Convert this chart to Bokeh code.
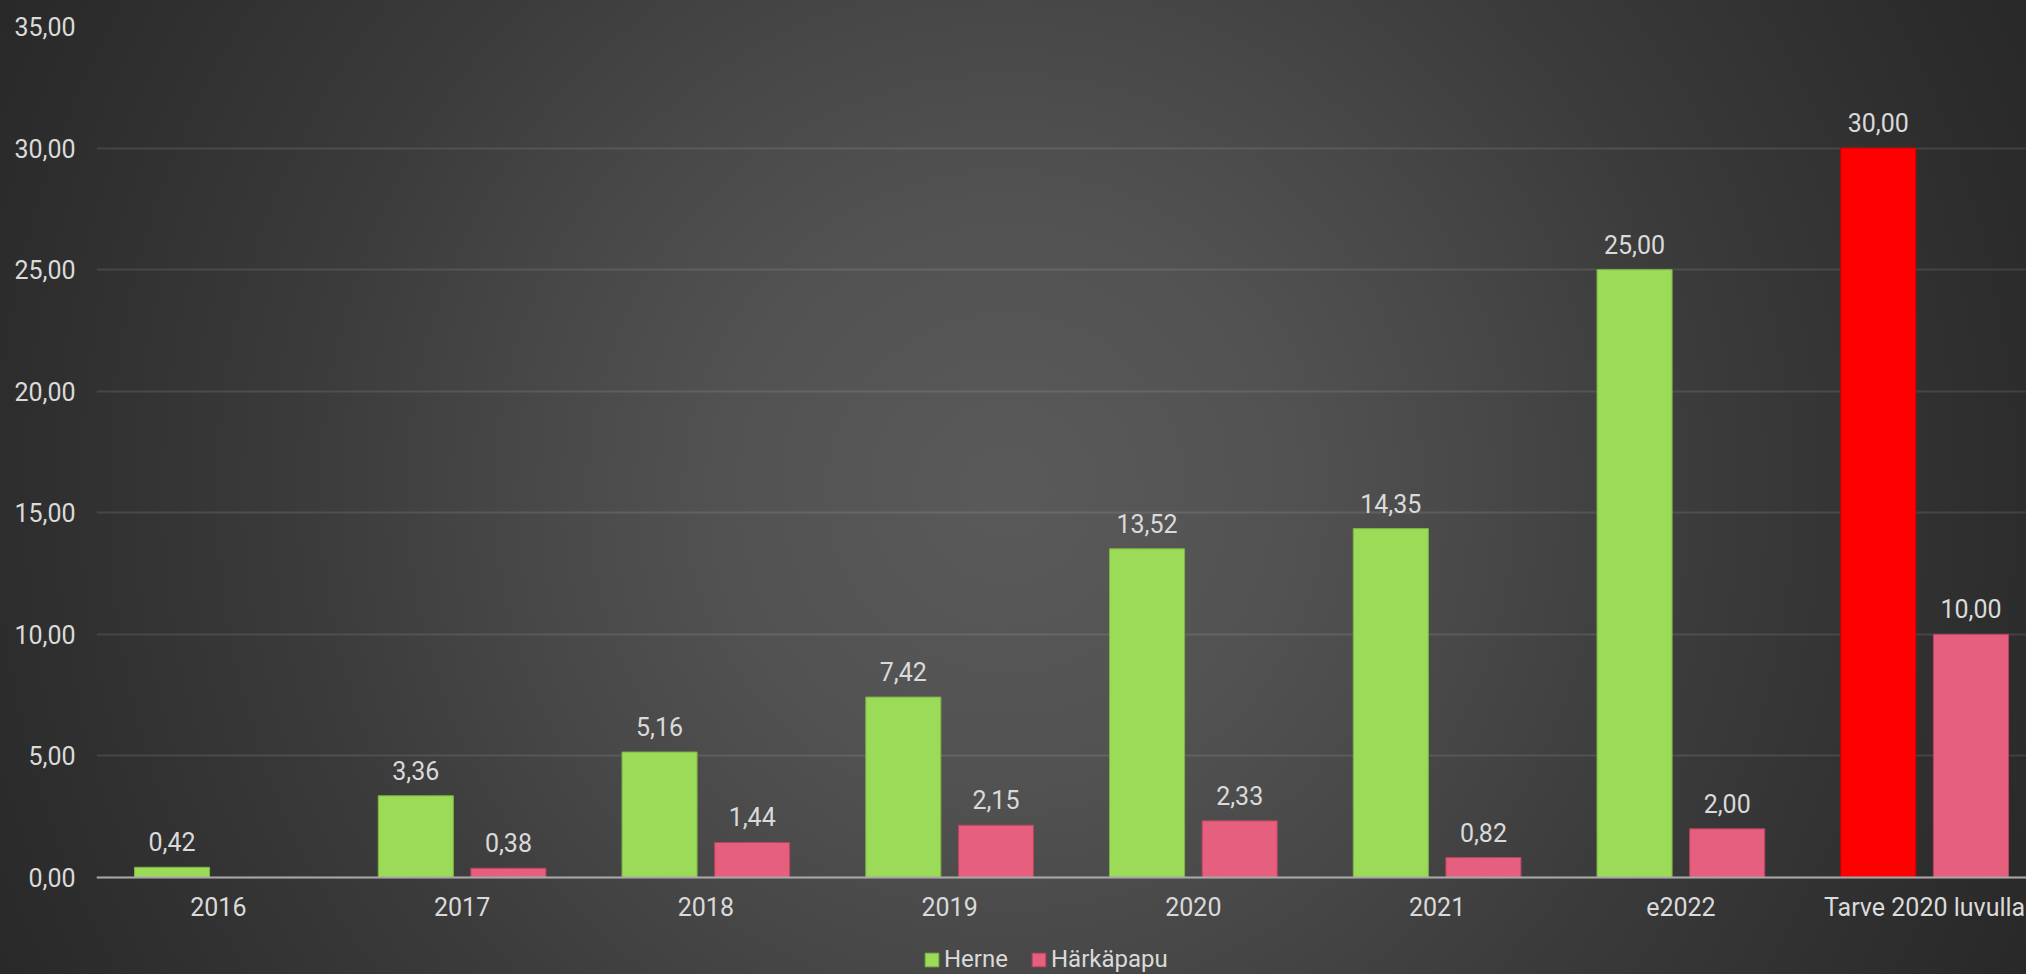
import math
from bokeh.plotting import figure
from bokeh.models import (ColumnDataSource, Range1d, FixedTicker, LabelSet,
                          Legend, LegendItem)
from bokeh.core.properties import value
from bokeh.transform import dodge
from bokeh.embed import file_html
from bokeh.resources import INLINE

# ---------------- data ----------------
categories = ["2016", "2017", "2018", "2019", "2020", "2021", "e2022", "Tarve 2020 luvulla"]
herne = [0.42, 3.36, 5.16, 7.42, 13.52, 14.35, 25.00, 30.00]
harkapapu = [None, 0.38, 1.44, 2.15, 2.33, 0.82, 2.00, 10.00]
series_names = ["Herne", "Härkäpapu"]
y_ticks = [0, 5, 10, 15, 20, 25, 30, 35]
y_tick_labels = ["0,00", "5,00", "10,00", "15,00", "20,00", "25,00", "30,00", "35,00"]
highlight_category = "Tarve 2020 luvulla"

# ---------------- styles ----------------
FONT = "Roboto"
FS = "25px"
TXT = "#dadada"
GREEN = "#9bdb58"
GREEN_LINE = "#7cb544"
RED = "#ff0000"
RED_LINE = "#c80000"
PINK = "#e65f7e"
PINK_LINE = "#b8455f"
BAR_W = 0.308
OFF = 0.19


def fmt(v):
    return "" if v is None else f"{v:.2f}".replace(".", ",")


xs = [i + 0.5 for i in range(len(categories))]
src = ColumnDataSource(dict(
    x=xs,
    herne=herne,
    hp=[math.nan if v is None else v for v in harkapapu],
    herne_lbl=[fmt(v) for v in herne],
    hp_lbl=[fmt(v) for v in harkapapu],
    herne_color=[RED if c == highlight_category else GREEN for c in categories],
    herne_line=[RED_LINE if c == highlight_category else GREEN_LINE for c in categories],
))

W, H = 2026, 974
LEFT, TOP = 96, 26
ZERO_Y = 877                      # screen y of the value 0
CAT_PX = 243.75
x_end = (W - LEFT) / CAT_PX
px_per_unit = (ZERO_Y - TOP) / 35.0
y_start = -(H - ZERO_Y) / px_per_unit   # room under the axis for labels + legend

p = figure(width=W, height=H, output_backend="svg", toolbar_location=None,
           x_range=Range1d(0, x_end), y_range=Range1d(y_start, 35),
           min_border_left=LEFT, min_border_right=0, min_border_top=TOP,
           min_border_bottom=0)
p.background_fill_color = None
p.border_fill_color = None
p.outline_line_color = None
p.styles = {"background": "radial-gradient(circle 1130px at 1005px 492px, #5a5a5a 0%, #525252 25%, "
                          "#484848 42%, #3b3b3b 62%, #2f2f2f 85%, #282828 100%)"}

r_herne = p.vbar(x=dodge("x", -OFF), top="herne", bottom=0, width=BAR_W, source=src,
                 fill_color="herne_color", line_color="herne_line", line_width=1)
r_hp = p.vbar(x=dodge("x", OFF), top="hp", bottom=0, width=BAR_W, source=src,
              fill_color=PINK, line_color=PINK_LINE, line_width=1)

for field, off in (("herne", -OFF), ("hp", OFF)):
    ls = LabelSet(x=dodge("x", off), y=field, text=field + "_lbl", source=src,
                  text_align="center", text_baseline="alphabetic", y_offset=16,
                  text_font=value(FONT), text_font_size=value(FS), text_color=TXT)
    p.add_layout(ls)

# axes
p.xaxis.fixed_location = 0
p.xaxis.ticker = FixedTicker(ticks=xs)
p.xaxis.major_label_overrides = {x: c for x, c in zip(xs, categories)}
p.xaxis.axis_line_color = "#a8a8a8"
p.xaxis.axis_line_width = 2
p.xaxis.major_tick_line_color = None
p.xaxis.minor_tick_line_color = None
p.xaxis.major_tick_out = 0
p.xaxis.major_tick_in = 0
p.xaxis.major_label_standoff = 15
p.xaxis.major_label_text_font = FONT
p.xaxis.major_label_text_font_size = FS
p.xaxis.major_label_text_color = TXT

p.yaxis.ticker = FixedTicker(ticks=y_ticks)
p.yaxis.major_label_overrides = {t: l for t, l in zip(y_ticks, y_tick_labels)}
p.yaxis.axis_line_color = None
p.yaxis.major_tick_line_color = None
p.yaxis.minor_tick_line_color = None
p.yaxis.major_tick_out = 0
p.yaxis.major_label_standoff = 21
p.yaxis.major_label_text_font = FONT
p.yaxis.major_label_text_font_size = FS
p.yaxis.major_label_text_color = TXT

p.xgrid.grid_line_color = None
p.ygrid.grid_line_color = "#ffffff"
p.ygrid.grid_line_alpha = 0.1
p.ygrid.grid_line_width = 2

legend = Legend(items=[LegendItem(label=series_names[0], renderers=[r_herne], index=1),
                       LegendItem(label=series_names[1], renderers=[r_hp], index=1)],
                orientation="horizontal", location=(827, 1),
                glyph_width=17, glyph_height=17, label_standoff=4, spacing=22,
                label_height=20, padding=0, margin=0, border_line_color=None,
                background_fill_alpha=0,
                label_text_font=FONT, label_text_font_size="24px", label_text_color=TXT)
p.add_layout(legend, "center")

open("out.html", "w").write(file_html(p, INLINE))
